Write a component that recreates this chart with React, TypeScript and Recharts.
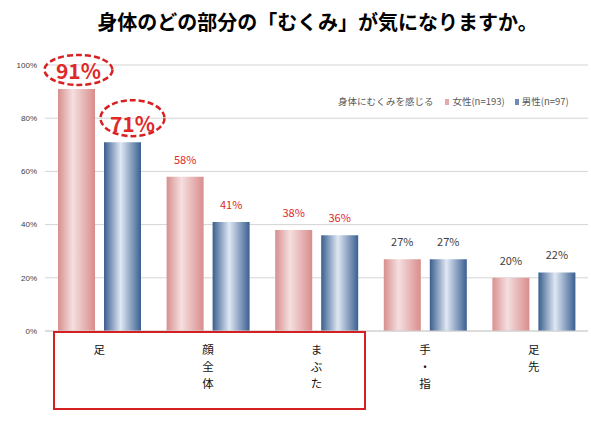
import { BarChart, Bar, XAxis, YAxis, CartesianGrid, LabelList } from 'recharts';

const categories = ['足', '顔全体', 'まぶた', '手・指', '足先'];
const female = [91, 58, 38, 27, 20];
const male = [71, 41, 36, 27, 22];
const yTicks = [0, 20, 40, 60, 80, 100];
const legendTitle = '身体にむくみを感じる';
const seriesNames = { female: '女性(n=193)', male: '男性(n=97)' };

const data = categories.map((name, i) => ({ name, female: female[i], male: male[i] }));

const FONT = '"Noto Sans CJK JP", "Noto Sans", sans-serif';
const RED = '#e02828';

// vertical stacked category labels, one glyph per line
const CatTick = (props: any) => {
  const { x, y, payload } = props;
  const chars = String(payload.value).split('');
  return (
    <g>
      {chars.map((c, i) => (
        <text key={i} x={x} y={y + 15 + i * 17} textAnchor="middle" fontSize={11.5} fill="#111" fontFamily={FONT}>
          {c}
        </text>
      ))}
    </g>
  );
};

const bigLabel = {
  female: { dx: 2, ecy: -19, rx: 34, ry: 15 },
  male: { dx: 10, ecy: -24, rx: 32, ry: 18 },
};

const makeLabel = (key: 'female' | 'male') => (props: any) => {
  const { x, y, width, value, index } = props;
  const cx = x + width / 2;
  if (index === 0) {
    const p = bigLabel[key];
    return (
      <g>
        <ellipse
          cx={cx + p.dx}
          cy={y + p.ecy}
          rx={p.rx}
          ry={p.ry}
          fill="none"
          stroke="#d82020"
          strokeWidth={2.5}
          strokeDasharray="6 3"
        />
        <text x={cx + p.dx} y={y - 10} textAnchor="middle" fontSize={21} fontWeight="bold" fill={RED} fontFamily={FONT}>
          {value}%
        </text>
      </g>
    );
  }
  return (
    <text x={cx} y={y - 13} textAnchor="middle" fontSize={11} fill={index < 3 ? RED : '#404040'} fontFamily={FONT}>
      {value}%
    </text>
  );
};

const swatch = (color: string) => (
  <span style={{ display: 'inline-block', width: 4, height: 6, background: color, marginRight: 3 }} />
);

export default function App() {
  return (
    <div style={{ position: 'relative', width: 591, height: 421, background: '#fff', fontFamily: FONT }}>
      <style>{`body{margin:0}`}</style>
      <div
        style={{
          position: 'absolute',
          top: 9,
          left: 22,
          width: 591,
          textAlign: 'center',
          fontSize: 20,
          fontWeight: 'bold',
          color: '#000',
          lineHeight: '26px',
        }}
      >
        身体のどの部分の「むくみ」が気になりますか。
      </div>
      <BarChart width={591} height={421} data={data} margin={{ top: 65, right: 3, bottom: 0, left: 0 }} barSize={37} barGap={9}>
        <defs>
          <linearGradient id="pinkGrad" x1="0" y1="0" x2="1" y2="0">
            <stop offset="0%" stopColor="#d88f8f" />
            <stop offset="40%" stopColor="#f5dfdf" />
            <stop offset="100%" stopColor="#d98d8d" />
          </linearGradient>
          <linearGradient id="blueGrad" x1="0" y1="0" x2="1" y2="0">
            <stop offset="0%" stopColor="#3a5e8e" />
            <stop offset="45%" stopColor="#dfe8f4" />
            <stop offset="100%" stopColor="#3b5f90" />
          </linearGradient>
        </defs>
        <CartesianGrid vertical={false} stroke="#d4d4d4" />
        <XAxis
          dataKey="name"
          height={90}
          tickLine={false}
          axisLine={{ stroke: '#d0d0d0' }}
          tick={<CatTick />}
          interval={0}
        />
        <YAxis
          width={45}
          domain={[0, 100]}
          ticks={yTicks}
          tickFormatter={(v) => `${v}%`}
          axisLine={false}
          tickLine={false}
          tick={{ fontSize: 8, fill: '#404040', fontFamily: 'Liberation Sans, Arial, sans-serif' }}
        />
        <Bar dataKey="female" name={seriesNames.female} fill="url(#pinkGrad)" isAnimationActive={false}>
          <LabelList dataKey="female" content={makeLabel('female')} />
        </Bar>
        <Bar dataKey="male" name={seriesNames.male} fill="url(#blueGrad)" isAnimationActive={false}>
          <LabelList dataKey="male" content={makeLabel('male')} />
        </Bar>
      </BarChart>
      <div
        style={{
          position: 'absolute',
          top: 94,
          left: 338,
          fontSize: 9.5,
          color: '#595959',
          whiteSpace: 'nowrap',
        }}
      >
        <span style={{ marginRight: 12 }}>{legendTitle}</span>
        <span style={{ marginRight: 10 }}>
          {swatch('#e4a9a9')}
          {seriesNames.female}
        </span>
        <span>
          {swatch('#6d8bb5')}
          {seriesNames.male}
        </span>
      </div>
      <div
        style={{
          position: 'absolute',
          left: 53,
          top: 331,
          width: 309,
          height: 75,
          border: '2px solid #d42020',
          pointerEvents: 'none',
        }}
      />
    </div>
  );
}
